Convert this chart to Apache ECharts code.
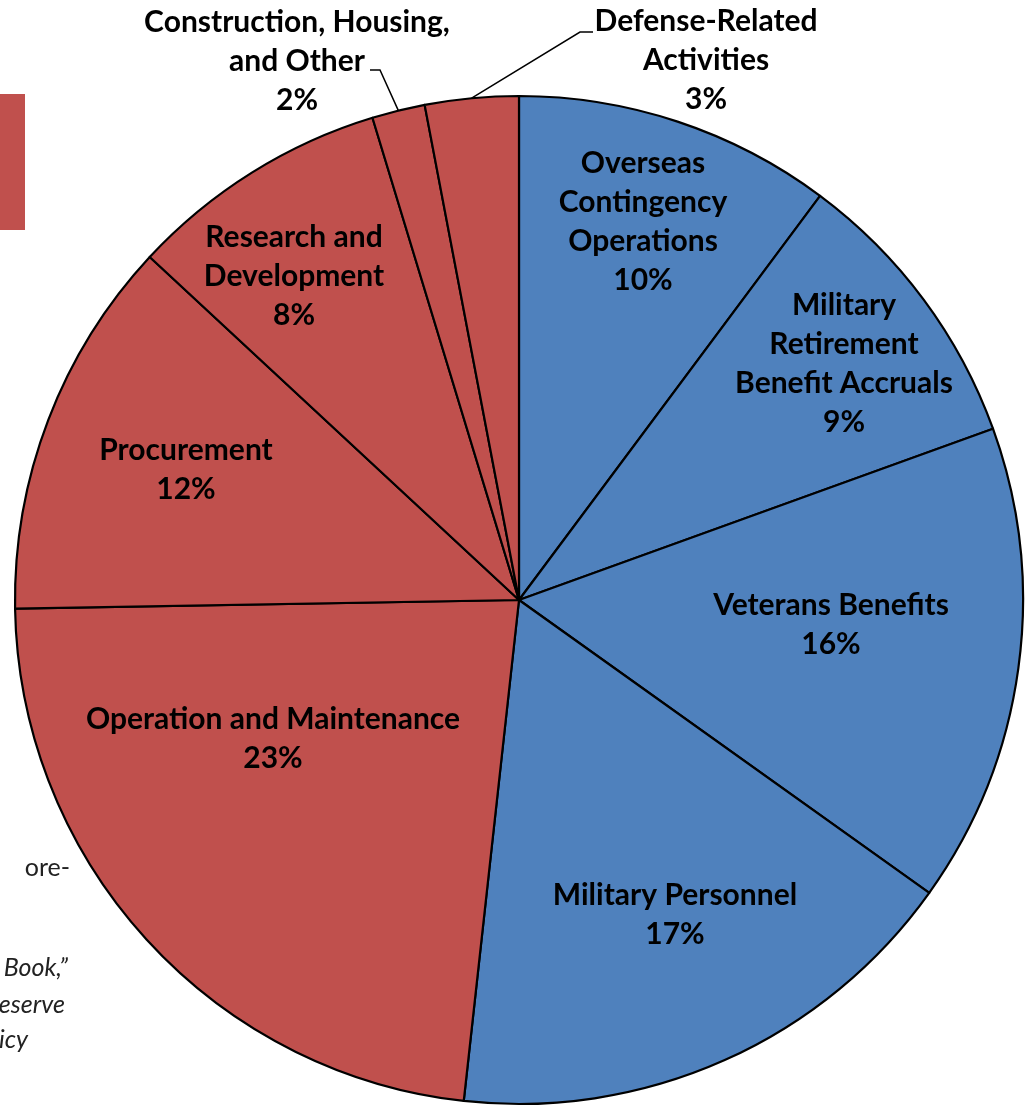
<!DOCTYPE html>
<html>
<head>
<meta charset="utf-8">
<script src="https://cdn.jsdelivr.net/npm/echarts@6/dist/echarts.min.js"></script>
<style>
html, body { margin: 0; padding: 0; background: #fff; }
#chart { width: 1027px; height: 1107px; }
</style>
</head>
<body>
<div id="chart"></div>
<script>
// slices, clockwise from 12 o'clock
var categories = ['Overseas\nContingency\nOperations', 'Military\nRetirement\nBenefit Accruals', 'Veterans Benefits',
    'Military Personnel', 'Operation and Maintenance', 'Procurement', 'Research and\nDevelopment',
    'Construction, Housing,\nand Other', 'Defense-Related\nActivities'];
var shares = [10.2, 9.3, 15.4, 16.9, 23.0, 12.2, 8.4, 1.7, 3.0];
var shareLabels = ['10%', '9%', '16%', '17%', '23%', '12%', '8%', '2%', '3%'];
var groups = ['blue', 'blue', 'blue', 'blue', 'red', 'red', 'red', 'red', 'red'];

var groupColors = {blue: '#4F81BD', red: '#C0504D'};
var cx = 519, cy = 600, R = 504;
// where each label block is centred
var labelCenters = [[643, 222], [844, 364], [831, 625], [675, 915], [273, 739],
    [186, 470], [294, 276], [297, 61], [706, 60]];
// leader lines for the two small slices: elbow and end, relative to the label centre
var leaders = {7: [[83, 9], [73, 9]], 8: [[-126, -28], [-113, -28]]};

var total = 0;
for (var i = 0; i < shares.length; i++) total += shares[i];

function midAngle(idx) {
    var acc = 0;
    for (var i = 0; i < idx; i++) acc += shares[i];
    return (acc + shares[idx] / 2) / total * Math.PI * 2;
}

var pieData = [];
for (var i = 0; i < shares.length; i++) {
    var item = {
        value: shares[i],
        name: categories[i],
        itemStyle: {color: groupColors[groups[i]]}
    };
    if (!leaders[i]) {
        item.label = {position: 'inside'};
        item.labelLine = {show: false};
    }
    pieData.push(item);
}

var noteFont = 'italic 25px Lato';
var chart = echarts.init(document.getElementById('chart'));
chart.setOption({
    animation: false,
    graphic: [
        {type: 'rect', left: 0, top: 94, shape: {width: 25, height: 136}, style: {fill: '#C0504D'}, z: -1},
        {type: 'text', x: 70, y: 868, style: {text: 'ore-', align: 'right', verticalAlign: 'middle', font: '25px Lato', fill: '#222'}},
        {type: 'text', x: 68, y: 968, style: {text: 'Book,\u201D', align: 'right', verticalAlign: 'middle', font: noteFont, fill: '#222'}},
        {type: 'text', x: 65, y: 1005, style: {text: 'eserve', align: 'right', verticalAlign: 'middle', font: noteFont, fill: '#222'}},
        {type: 'text', x: 28, y: 1040, style: {text: 'icy', align: 'right', verticalAlign: 'middle', font: noteFont, fill: '#222'}}
    ],
    series: [{
        type: 'pie',
        center: [cx, cy],
        radius: R,
        startAngle: 90,
        clockwise: true,
        avoidLabelOverlap: false,
        itemStyle: {borderColor: '#000', borderWidth: 2.2},
        label: {
            show: true,
            position: 'outside',
            overflow: 'none',
            color: '#000',
            fontFamily: 'Lato',
            fontWeight: 'bold',
            fontSize: 30,
            lineHeight: 39,
            formatter: function (p) {
                return p.name + '\n' + shareLabels[p.dataIndex];
            }
        },
        labelLine: {show: true, lineStyle: {color: '#000', width: 1.5}},
        labelLayout: function (params) {
            var idx = params.dataIndex;
            var c = labelCenters[idx];
            var out = {x: c[0], y: c[1], align: 'center', verticalAlign: 'middle'};
            if (leaders[idx]) {
                var a = midAngle(idx);
                var l = leaders[idx];
                out.labelLinePoints = [
                    [cx + R * Math.sin(a), cy - R * Math.cos(a)],
                    [c[0] + l[0][0], c[1] + l[0][1]],
                    [c[0] + l[1][0], c[1] + l[1][1]]
                ];
            }
            return out;
        },
        data: pieData
    }]
});
</script>
</body>
</html>
